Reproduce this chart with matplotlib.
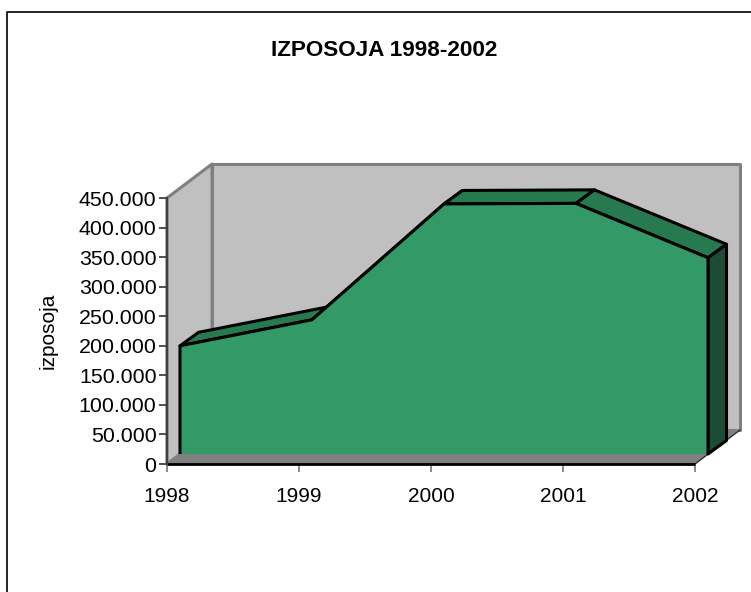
import matplotlib
matplotlib.use('Agg')
import matplotlib.pyplot as plt
from matplotlib.patches import Polygon
from matplotlib.lines import Line2D
from matplotlib.transforms import Affine2D

plt.rcParams['font.family'] = ['Liberation Sans', 'DejaVu Sans']

years = [1998, 1999, 2000, 2001, 2002]
izposoja = [183000, 227000, 423000, 424000, 332000]
yticks = [0, 50000, 100000, 150000, 200000, 250000, 300000, 350000, 400000, 450000]
ylabels = ['0', '50.000', '100.000', '150.000', '200.000', '250.000', '300.000', '350.000', '400.000', '450.000']

W, H = 751, 592
fig = plt.figure(figsize=(W / 100, H / 100), dpi=100)
# front plane of the fake 3d box
ax = fig.add_axes([167 / W, 1 - 464 / H, 528 / W, 266 / H])
ax.set_xlim(years[0], years[-1])
ax.set_ylim(0, 450000)
ax.patch.set_visible(False)
for s in ax.spines.values():
    s.set_visible(False)


def shift(dx, dy):
    # move by pixels, y up
    return ax.transData + Affine2D().translate(dx, dy)


def poly(pts, color, ec='none', lw=0, z=1):
    # pts = list of (x, y, dx, dy), the oblique shift is added in pixels
    disp = [shift(dx, dy).transform((x, y)) for x, y, dx, dy in pts]
    p = Polygon(disp, closed=True, facecolor=color, edgecolor=ec, linewidth=lw,
                transform=Affine2D(), zorder=z, clip_on=False, joinstyle='round')
    ax.add_artist(p)
    return p


x0, x1 = years[0], years[-1]
ymax = yticks[-1]
BX, BY = 45, 34    # back wall depth
FX, FY = 13, 10    # front of area
DX, DY = 18.5, 13.5  # area depth

# walls + floor
poly([(x0, ymax, BX, BY), (x1, ymax, BX, BY), (x1, 0, BX, BY), (x0, 0, BX, BY)], '#c0c0c0', '#808080', 2.2, 1)
poly([(x0, ymax, 0, 0), (x0, ymax, BX, BY), (x0, 0, BX, BY), (x0, 0, 0, 0)], '#c0c0c0', '#808080', 2.2, 1.1)
poly([(x0, 0, 0, 0), (x1, 0, 0, 0), (x1, 0, BX, BY), (x0, 0, BX, BY)], '#808080', z=1.2)
a = shift(0, 0).transform((x1, 0))
b = shift(BX, BY).transform((x1, 0))
ax.add_line(Line2D([a[0], b[0]], [a[1], b[1]], transform=Affine2D(), color='#303030', lw=1, zorder=1.3, clip_on=False))

# top faces of the area
for i in [0, 1, 2, 3]:
    poly([(years[i], izposoja[i], FX, FY), (years[i + 1], izposoja[i + 1], FX, FY),
          (years[i + 1], izposoja[i + 1], FX + DX, FY + DY), (years[i], izposoja[i], FX + DX, FY + DY)],
         '#277a50', 'black', 2.2, 2)
# right side
poly([(x1, 0, FX, FY), (x1, 0, FX + DX, FY + DY), (x1, izposoja[-1], FX + DX, FY + DY), (x1, izposoja[-1], FX, FY)],
     '#1c4c33', 'black', 2.2, 2.1)
# front face, outline left open at the floor
front = [(x0, 0, FX, FY)] + [(x, v, FX, FY) for x, v in zip(years, izposoja)] + [(x1, 0, FX, FY)]
poly(front, '#339966', z=3)
ax.plot([x0] + years + [x1], [0] + izposoja + [0], transform=shift(FX, FY), color='black', lw=2.2,
        clip_on=False, zorder=3.1, solid_joinstyle='round', solid_capstyle='butt')

ax.plot([x0, x1], [0, 0], color='black', lw=2, clip_on=False, zorder=4, solid_capstyle='butt')
ax.plot([x0, x0], [0, ymax], color='#404040', lw=1.6, clip_on=False, zorder=4)

ax.set_xlim(years[0], years[-1])
ax.set_ylim(0, 450000)
ax.set_yticks(yticks)
ax.set_yticklabels(ylabels, fontsize=15.4, color='black')
ax.set_xticks(years)
ax.set_xticklabels([str(y) for y in years], fontsize=15, color='black')
ax.tick_params(axis='y', length=5.5, width=1.3, color='#404040', pad=2)
ax.tick_params(axis='x', length=5.5, width=1.3, color='#808080', pad=11)
ax.set_ylabel('izposoja', fontsize=15, labelpad=15)

fig.text(384.5 / W, 1 - 50 / H, 'IZPOSOJA 1998-2002', fontsize=16.2, fontweight='bold', ha='center', va='center')
# chart frame, right and bottom run off the picture
fig.add_artist(Line2D([1, 7 / W, 7 / W], [1 - 12 / H, 1 - 12 / H, 0], transform=fig.transFigure,
                      color='black', lw=1.2))
fig.savefig('out.png', dpi=100)
